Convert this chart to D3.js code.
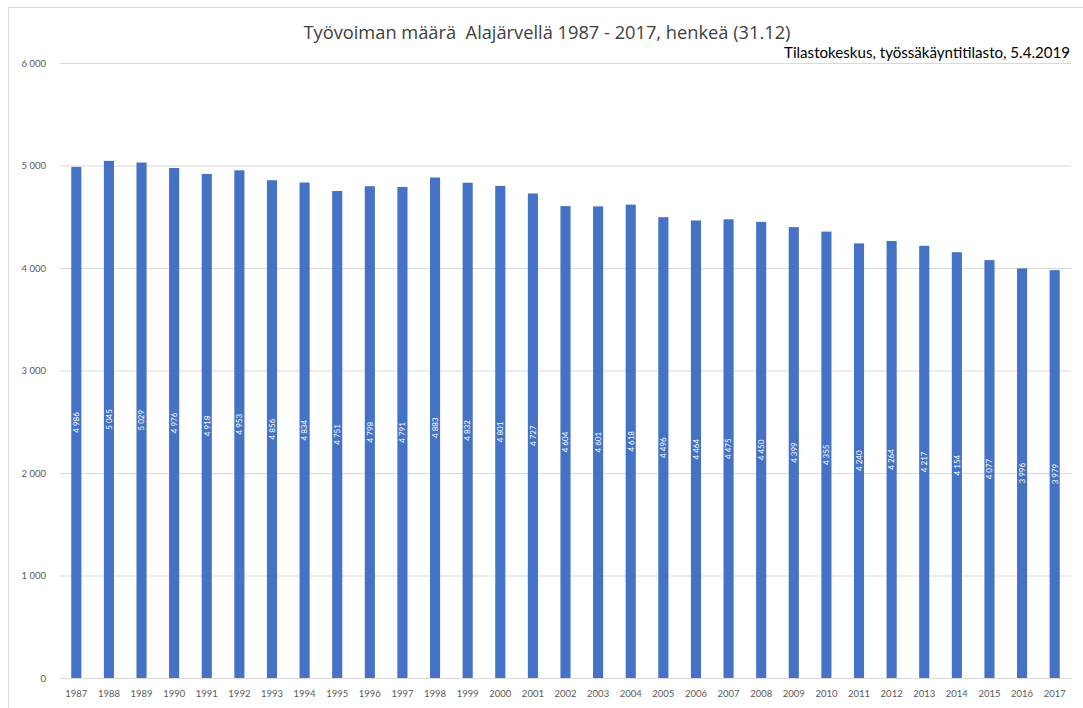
<!DOCTYPE html>
<html>
<head>
<meta charset="utf-8">
<script src="https://cdn.jsdelivr.net/npm/d3@7"></script>
<style>
  body { margin: 0; background: #fff; }
  svg { display: block; font-family: Lato, "Open Sans", sans-serif; }
</style>
</head>
<body>
<div id="chart"></div>
<script>
'use strict';

var years = ['1987', '1988', '1989', '1990', '1991', '1992', '1993', '1994', '1995', '1996',
             '1997', '1998', '1999', '2000', '2001', '2002', '2003', '2004', '2005', '2006',
             '2007', '2008', '2009', '2010', '2011', '2012', '2013', '2014', '2015', '2016', '2017'];

var workforce = [4986, 5045, 5029, 4976, 4918, 4953, 4856, 4834, 4751, 4798,
                 4791, 4883, 4832, 4801, 4727, 4604, 4601, 4618, 4496, 4464,
                 4475, 4450, 4399, 4355, 4240, 4264, 4217, 4154, 4077, 3996, 3979];

var yTicks = [0, 1000, 2000, 3000, 4000, 5000, 6000];

var title = 'Työvoiman määrä  Alajärvellä 1987 - 2017, henkeä (31.12)',
    source = 'Tilastokeskus, työssäkäyntitilasto, 5.4.2019';

var width = 1083,
    height = 708;

var margin = {top: 63, right: 12, bottom: 30, left: 60},
    chartWidth = width - margin.left - margin.right,
    chartHeight = height - margin.top - margin.bottom;

var fi = d3.formatLocale({decimal: ',', thousands: '\u00a0', grouping: [3], currency: ['', ' €']});
var fmt = fi.format(',d');

var data = years.map(function (y, i) { return {year: y, value: workforce[i]}; });

var svg = d3.select('#chart').append('svg')
  .attr('width', width)
  .attr('height', height);

// shrink or grow a text so it spans the given width
function fitWidth(sel, target) {
  var size = +sel.attr('font-size'),
      w = sel.node().getComputedTextLength();
  if (w > 0) sel.attr('font-size', (size * target / w).toFixed(2));
}

// chart frame
svg.append('rect')
  .attr('x', 8.5).attr('y', 7.5)
  .attr('width', width + 20).attr('height', height + 20)
  .attr('fill', 'none')
  .attr('stroke', '#d9d9d9');

svg.append('text')
  .attr('x', 547).attr('y', 39)
  .attr('text-anchor', 'middle')
  .attr('font-family', '"Open Sans", sans-serif')
  .attr('font-size', 18)
  .attr('fill', '#404040')
  .style('white-space', 'pre')
  .text(title)
  .call(fitWidth, 487);

svg.append('text')
  .attr('x', 1070).attr('y', 58)
  .attr('text-anchor', 'end')
  .attr('font-size', 14)
  .attr('fill', '#000')
  .text(source)
  .call(fitWidth, 286);

var chart = svg.append('g')
  .attr('transform', 'translate(' + margin.left + ',' + margin.top + ')');

var x = d3.scaleBand()
  .domain(years)
  .range([0, chartWidth])
  .paddingInner(0.69)
  .paddingOuter(0.345);

var y = d3.scaleLinear()
  .domain([0, 6000])
  .range([chartHeight, 0]);

var yAxis = d3.axisLeft(y)
  .tickValues(yTicks)
  .tickSize(-chartWidth)
  .tickPadding(14)
  .tickFormat(fmt);

chart.append('g')
  .attr('class', 'y-axis')
  .call(yAxis)
  .call(function (g) {
    g.select('.domain').remove();
    g.selectAll('line').attr('stroke', '#d9d9d9');
    g.selectAll('text').attr('fill', '#595959').attr('font-size', 9.5)
      .attr('font-family', 'Lato, sans-serif');
  });

var xAxis = d3.axisBottom(x)
  .tickSize(0)
  .tickPadding(12);

chart.append('g')
  .attr('class', 'x-axis')
  .attr('transform', 'translate(0,' + chartHeight + ')')
  .call(xAxis)
  .call(function (g) {
    g.select('.domain').remove();
    g.selectAll('text').attr('fill', '#595959').attr('font-size', 9.5)
      .attr('font-family', 'Lato, sans-serif');
  });

chart.selectAll('.bar')
  .data(data)
  .enter().append('rect')
  .attr('class', 'bar')
  .attr('x', function (d) { return x(d.year); })
  .attr('y', function (d) { return y(d.value); })
  .attr('width', x.bandwidth())
  .attr('height', function (d) { return chartHeight - y(d.value); })
  .attr('fill', '#4472c4');

chart.selectAll('.label')
  .data(data)
  .enter().append('text')
  .attr('class', 'label')
  .attr('transform', function (d) {
    var cx = x(d.year) + x.bandwidth() / 2,
        cy = (y(d.value) + chartHeight) / 2;
    return 'translate(' + cx + ',' + cy + ') rotate(-90)';
  })
  .attr('text-anchor', 'middle')
  .attr('dy', '0.35em')
  .attr('font-size', 8)
  .attr('fill', '#fff')
  .text(function (d) { return fmt(d.value); });
</script>
</body>
</html>
